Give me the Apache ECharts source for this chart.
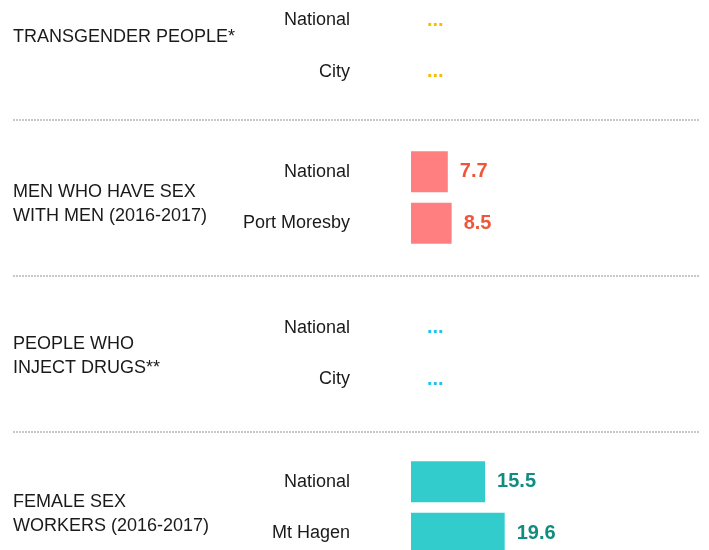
<!DOCTYPE html>
<html>
<head>
    <meta charset="utf-8">
    <script src="https://cdn.jsdelivr.net/npm/echarts@6/dist/echarts.min.js"></script>
    <style>
        html, body { margin: 0; padding: 0; background: #fff; }
    </style>
</head>
<body>
    <div id="main" style="width: 709px;height:550px;"></div>

<script type="text/javascript">
// 数据
var groupNames = ['TRANSGENDER PEOPLE*', 'MEN WHO HAVE SEX\nWITH MEN (2016-2017)', 'PEOPLE WHO\nINJECT DRUGS**', 'FEMALE SEX\nWORKERS (2016-2017)'];
var siteNames = [
    ['National', 'City'],
    ['National', 'Port Moresby'],
    ['National', 'City'],
    ['National', 'Mt Hagen']
];
// null = no data ("...")
var siteValues = [
    [null, null],
    [7.7, 8.5],
    [null, null],
    [15.5, 19.6]
];
var barColors = ['#F5BE00', '#FF7F80', '#1EC3EE', '#33CCCC'];
var labelColors = ['#F5BE00', '#F0553A', '#1EC3EE', '#118C80'];

var font = "'Liberation Sans', Arial, sans-serif";
var gridTops = [-5.5, 146, 302, 456];
var groupLabelY = [37, 204, 356, 514];
var sepY = [120, 276, 432];

var myChart = echarts.init(document.getElementById('main'));

var grids = [], xAxes = [], yAxes = [], series = [], graphics = [];

for (var i = 0; i < groupNames.length; i++) {
    grids.push({
        left: 411, width: 119.5, top: gridTops[i], height: 103,
        outerBoundsMode: 'none', containLabel: false
    });
    xAxes.push({
        type: 'value', gridIndex: i, min: 0, max: 25, show: false
    });
    yAxes.push({
        type: 'category', gridIndex: i, inverse: true,
        data: siteNames[i],
        axisLine: { show: false },
        axisTick: { show: false },
        splitLine: { show: false },
        axisLabel: {
            margin: 61, fontSize: 18, color: '#1a1a1a', fontFamily: font
        }
    });
    series.push({
        type: 'bar',
        xAxisIndex: i,
        yAxisIndex: i,
        barWidth: 41,
        itemStyle: { color: barColors[i] },
        label: {
            show: true,
            position: 'right',
            distance: 12,
            fontSize: 20,
            fontWeight: 'bold',
            fontFamily: font,
            color: labelColors[i],
            formatter: function (p) {
                return p.data.missing ? '...' : p.value;
            }
        },
        data: siteValues[i].map(function (v) {
            if (v == null) {
                return { value: 0, missing: true, label: { distance: 16 } };
            }
            return { value: v, missing: false };
        })
    });
    graphics.push({
        type: 'text',
        x: 13,
        y: groupLabelY[i],
        style: {
            text: groupNames[i],
            fontSize: 18,
            lineHeight: 24,
            fontFamily: font,
            fill: '#1a1a1a',
            verticalAlign: 'middle'
        }
    });
}

sepY.forEach(function (y) {
    graphics.push({
        type: 'line',
        shape: { x1: 13, y1: y, x2: 700, y2: y },
        style: { stroke: '#C8C8C8', lineWidth: 2, lineDash: [2, 1] }
    });
});

var option = {
    animation: false,
    grid: grids,
    xAxis: xAxes,
    yAxis: yAxes,
    series: series,
    graphic: graphics
};

myChart.setOption(option);
</script>
</body>
</html>
